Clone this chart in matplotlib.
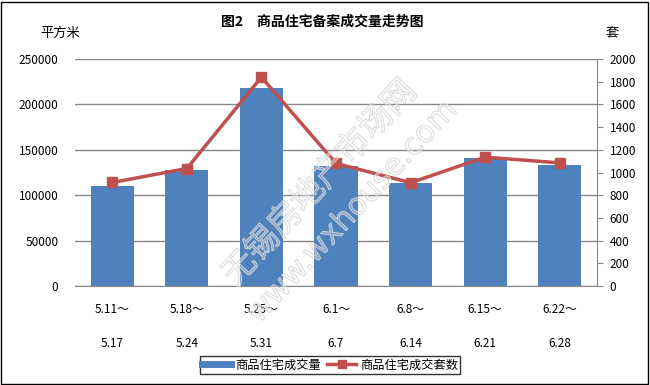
import matplotlib
matplotlib.use("Agg")
import matplotlib.pyplot as plt
from matplotlib.lines import Line2D
import matplotlib.patheffects as pe

plt.rcParams['font.family'] = ['Noto Sans CJK SC', 'DejaVu Sans']

categories = ["5.11～\n5.17", "5.18～\n5.24", "5.25～\n5.31", "6.1～\n6.7",
              "6.8～\n6.14", "6.15～\n6.21", "6.22～\n6.28"]
area = [110000, 128000, 218000, 132000, 113000, 141000, 133000]
units = [912, 1035, 1840, 1080, 910, 1135, 1085]
left_ticks = [0, 50000, 100000, 150000, 200000, 250000]
right_ticks = list(range(0, 2001, 200))

bar_color = "#4F81BD"
line_color = "#C0504D"

fig = plt.figure(figsize=(6.5, 3.85), dpi=100)
fig.patches.append(plt.Rectangle((0.002, 0.003), 0.995, 0.993, transform=fig.transFigure,
                                 fill=False, edgecolor="black", linewidth=1.0))
ax = fig.add_axes([75/650, 1-286/385, (597-75)/650, (286-59)/385])
x = list(range(len(categories)))
ax.bar(x, area, width=0.58, color=bar_color, zorder=2)
ax.set_xlim(-0.5, len(categories)-0.5)
ax.set_ylim(0, 250000)
ax.set_yticks(left_ticks)
ax.set_yticklabels([str(v) for v in left_ticks], fontsize=8.5)
ax.yaxis.grid(True, color="#878787", linewidth=1.0, zorder=0)
ax.set_axisbelow(True)
ax.tick_params(axis='y', length=0, pad=12)
ax.set_xticks(x)
ax.set_xticklabels(categories, fontsize=8.5, linespacing=3.15)
ax.tick_params(axis='x', length=0, pad=12)
for s in ['top', 'left', 'right']:
    ax.spines[s].set_visible(False)
ax.spines['bottom'].set_color("#878787")

ax2 = ax.twinx()
ax2.plot(x, units, color=line_color, linewidth=2.5, marker='s', markersize=7.5, zorder=3)
ax2.set_ylim(0, 2000)
ax2.set_yticks(right_ticks)
ax2.set_yticklabels([str(v) for v in right_ticks], fontsize=8.5)
ax2.tick_params(axis='y', length=4, color="#878787", pad=5)
for s in ['top', 'left', 'bottom']:
    ax2.spines[s].set_visible(False)
ax2.spines['right'].set_color("#878787")

# watermark
wm_effects = [pe.Stroke(linewidth=0.7, foreground=(0.82, 0.82, 0.82, 0.9)), pe.Normal()]
fig.text(320/650, 1-183/385, "无锡房地产市场网", ha='center', va='center', rotation=47,
         fontsize=24, color=(1, 1, 1, 0.18), path_effects=wm_effects, zorder=10)
fig.text(352/650, 1-212/385, "www.wxhouse.com", ha='center', va='center', rotation=47,
         fontsize=22, color=(1, 1, 1, 0.18), path_effects=wm_effects, zorder=10,
         family=['DejaVu Sans'])

fig.text(322/650, 1-22/385, "图2　商品住宅备案成交量走势图", ha='center', va='center',
         fontsize=10, fontweight='bold')
fig.text(60/650, 1-33/385, "平方米", ha='center', va='center', fontsize=9.5)
fig.text(612/650, 1-33/385, "套", ha='center', va='center', fontsize=9.5)

handles = [Line2D([0], [0], color=bar_color, linewidth=5),
           Line2D([0], [0], color=line_color, linewidth=2.5, marker='s', markersize=6)]
leg = fig.legend(handles, ["商品住宅成交量", "商品住宅成交套数"], loc='center',
                 bbox_to_anchor=(330/650, 1-365/385), ncol=2, fontsize=8.8,
                 frameon=True, fancybox=False, edgecolor='black', handlelength=2.4,
                 columnspacing=0.5, handletextpad=0.3, borderpad=0.2, borderaxespad=0)
leg.get_frame().set_linewidth(1.0)

fig.savefig("out.png", dpi=100)
